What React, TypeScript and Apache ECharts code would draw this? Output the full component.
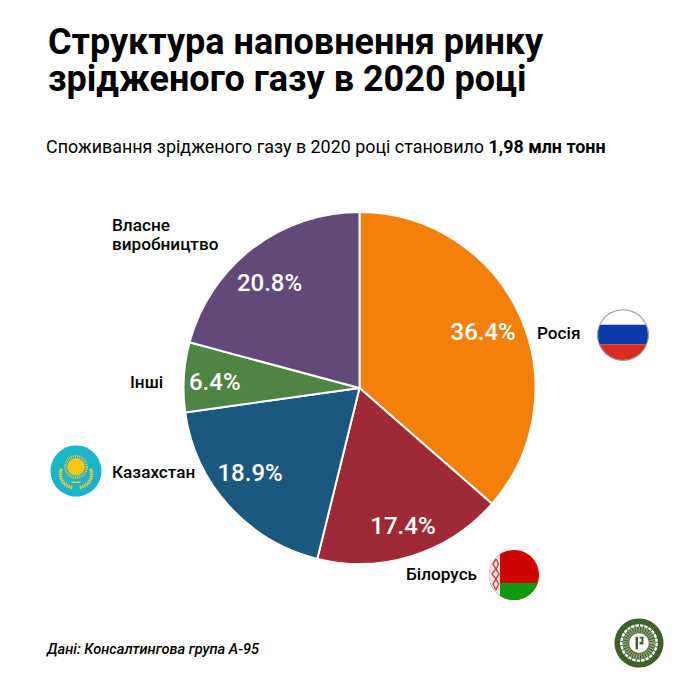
import React, { useEffect, useRef } from "react";
import * as echarts from "echarts";

const titleLines = ["Структура наповнення ринку", "зрідженого газу в 2020 році"];
const subtitleText = "Споживання зрідженого газу в 2020 році становило ";
const subtitleBold = "1,98 млн тонн";
const sourceText = "Дані: Консалтингова група А-95";
const categories = ["Росія", "Білорусь", "Казахстан", "Інші", "Власне\nвиробництво"];
const shares = [36.4, 17.4, 18.9, 6.4, 20.8];
const colors = ["#F2800B", "#9F2937", "#1C587E", "#4F8542", "#614A78"];
const labelSpots: [number, number, "left" | "right"][] = [
  [537, 333, "left"],
  [406, 574, "left"],
  [112, 472, "left"],
  [130, 382, "left"],
  [112, 234, "left"],
];
const percentShifts: [number, number][] = [
  [-2, 1],
  [2, 6],
  [-7, -7],
  [-7, 2],
  [-6, 5],
];

const FONT = "Roboto";

// chord-shaped caps of a circle of radius 50 centred at the origin
const half = (y: number) => Math.sqrt(2500 - y * y);
const band = (y0: number, y1: number) =>
  `M${-half(y0)} ${y0}L${half(y0)} ${y0}A50 50 0 0 1 ${half(y1)} ${y1}L${-half(y1)} ${y1}A50 50 0 0 1 ${-half(y0)} ${y0}Z`;
const bottomCap = (y: number) => `M${half(y)} ${y}A50 50 0 0 1 ${-half(y)} ${y}Z`;
const leftCap = (x: number) => `M${x} ${half(x)}A50 50 0 0 1 ${x} ${-half(x)}Z`;

echarts.graphic.registerShape("ruBlue", echarts.graphic.extendPath(band(-20, 18), {}) as any);
echarts.graphic.registerShape("ruRed", echarts.graphic.extendPath(bottomCap(18), {}) as any);
echarts.graphic.registerShape("byGreen", echarts.graphic.extendPath(bottomCap(16), {}) as any);
echarts.graphic.registerShape("byStrip", echarts.graphic.extendPath(leftCap(-28), {}) as any);
echarts.graphic.registerShape(
  "kzWreathL",
  echarts.graphic.extendPath("M-29 -4C-34 14 -26 28 -6 33", {}) as any
);
echarts.graphic.registerShape(
  "kzWreathR",
  echarts.graphic.extendPath("M29 -4C34 14 26 28 6 33", {}) as any
);
echarts.graphic.registerShape(
  "logoMark",
  echarts.graphic.extendPath("M-7 -13H-2V13H-7ZM1 -13H9V3H5V-9H1ZM1 -2H5V3H1Z", {}) as any
);

const flag = (x: number, y: number, r: number, children: any[]) => ({
  type: "group",
  x,
  y,
  scaleX: r / 50,
  scaleY: r / 50,
  silent: true,
  children,
});

const russia = flag(623, 335, 25.6, [
  { type: "circle", shape: { cx: 0, cy: 0, r: 50 }, style: { fill: "#ffffff" } },
  { type: "ruBlue", style: { fill: "#0A3BA8" } },
  { type: "ruRed", style: { fill: "#D92D1F" } },
  { type: "circle", shape: { cx: 0, cy: 0, r: 49.5 }, style: { fill: "none", stroke: "#9a9a9a", lineWidth: 2 } },
]);

const wreathStyle = { fill: "none", stroke: "#F0CB45", lineWidth: 7, lineDash: [3, 1.5] };
const kazakhstan = flag(76, 471, 25.5, [
  { type: "circle", shape: { cx: 0, cy: 0, r: 50 }, style: { fill: "#1BB4C9" } },
  { type: "circle", shape: { cx: 0, cy: -8, r: 21 }, style: { fill: "none", stroke: "#F3C633", lineWidth: 5, lineDash: [2, 2] } },
  { type: "circle", shape: { cx: 0, cy: -8, r: 17 }, style: { fill: "#FDC512" } },
  { type: "kzWreathL", style: wreathStyle },
  { type: "kzWreathR", style: wreathStyle },
  { type: "line", shape: { x1: -9, y1: 22, x2: 9, y2: 22 }, style: { stroke: "#F0CB45", lineWidth: 3 } },
]);

const belarus = flag(514, 575, 25, [
  { type: "circle", shape: { cx: 0, cy: 0, r: 50 }, style: { fill: "#CF0101" } },
  { type: "byGreen", style: { fill: "#0E9B12" } },
  { type: "byStrip", style: { fill: "#F4E6E6" } },
  {
    type: "polyline",
    shape: {
      points: [
        [-36, -32], [-42, -22], [-36, -12], [-44, -2], [-36, 8], [-42, 18], [-36, 30],
      ],
    },
    style: { fill: "none", stroke: "#C8484C", lineWidth: 3 },
  },
  {
    type: "polyline",
    shape: {
      points: [
        [-36, -32], [-31, -22], [-36, -12], [-30, -2], [-36, 8], [-31, 18], [-36, 30],
      ],
    },
    style: { fill: "none", stroke: "#C8484C", lineWidth: 3 },
  },
]);

const logo = flag(639, 643, 24.5, [
  { type: "circle", shape: { cx: 0, cy: 0, r: 50 }, style: { fill: "#3F5F2B" } },
  { type: "circle", shape: { cx: 0, cy: 0, r: 36 }, style: { fill: "none", stroke: "#ffffff", lineWidth: 5, lineDash: [7, 2] } },
  { type: "circle", shape: { cx: 0, cy: 0, r: 27 }, style: { fill: "none", stroke: "#8BA27B", lineWidth: 12, lineDash: [3, 2] } },
  { type: "circle", shape: { cx: 0, cy: 0, r: 20 }, style: { fill: "#ffffff" } },
  { type: "logoMark", style: { fill: "#3F5F2B" } },
]);

export default function App() {
  const ref = useRef<HTMLDivElement>(null);
  useEffect(() => {
    document.body.style.margin = "0";
    const chart = echarts.init(ref.current!, undefined, { renderer: "svg" });
    chart.setOption({
      animation: false,
      backgroundColor: "#ffffff",
      title: [
        {
          text: titleLines.join("\n"),
          left: 48,
          top: 23,
          padding: 0,
          textStyle: { fontFamily: FONT, fontSize: 36, fontWeight: 700, color: "#000000", lineHeight: 37 },
        },
        {
          text: `{n|${subtitleText}}{b|${subtitleBold}}`,
          left: 46,
          top: 137,
          padding: 0,
          textStyle: {
            rich: {
              n: { fontFamily: FONT, fontSize: 17.9, fontWeight: 400, color: "#000000" },
              b: { fontFamily: FONT, fontSize: 17.9, fontWeight: 700, color: "#000000" },
            },
          },
        },
        {
          text: sourceText,
          left: 47,
          top: 641,
          padding: 0,
          textStyle: { fontFamily: FONT, fontSize: 14.6, fontWeight: 500, fontStyle: "italic", color: "#000000" },
        },
      ],
      series: [
        {
          type: "pie",
          center: [359.5, 388],
          radius: 176,
          startAngle: 90,
          clockwise: true,
          silent: true,
          data: categories.map((name, i) => ({ name, value: shares[i], itemStyle: { color: colors[i] } })),
          itemStyle: { borderColor: "#ffffff", borderWidth: 2 },
          label: {
            show: true,
            position: "outside",
            formatter: "{b}",
            fontFamily: FONT,
            fontSize: 17.2,
            fontWeight: 500,
            lineHeight: 19,
            color: "#000000",
            align: "left",
          },
          labelLine: { show: false },
          labelLayout: (p: any) => {
            const s = labelSpots[p.dataIndex];
            return { x: s[0], y: s[1], align: s[2], verticalAlign: "middle", hideOverlap: false, moveOverlap: false };
          },
        },
        {
          type: "pie",
          center: [359.5, 388],
          radius: [94, 176],
          startAngle: 90,
          clockwise: true,
          silent: true,
          data: categories.map((name, i) => ({ name, value: shares[i] })),
          itemStyle: { color: "rgba(0,0,0,0)" },
          label: {
            show: true,
            position: "inside",
            formatter: (p: any) => `${p.value.toFixed(1)}%`,
            fontFamily: FONT,
            fontSize: 24,
            fontWeight: 500,
            color: "#ffffff",
          },
          labelLine: { show: false },
          labelLayout: (p: any) => {
            const s = percentShifts[p.dataIndex];
            return { dx: s[0], dy: s[1] };
          },
        },
      ],
      graphic: [russia, kazakhstan, belarus, logo],
    });
    return () => chart.dispose();
  }, []);
  return <div ref={ref} style={{ position: "absolute", left: 0, top: 0, width: 690, height: 690 }} />;
}
